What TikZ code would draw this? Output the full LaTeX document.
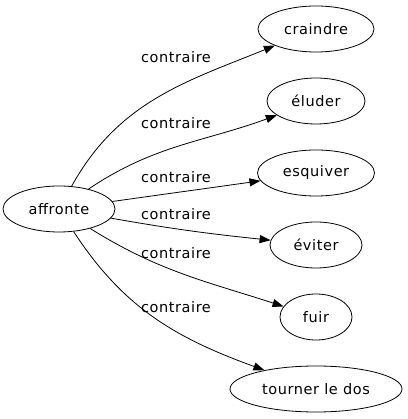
\documentclass[tikz,border=0pt]{standalone}
\usepackage{fontspec}
\newfontfamily\graphfont[LetterSpace=4]{DejaVu Sans}
\usetikzlibrary{shapes.geometric,arrows.meta}

\begin{document}
\begin{tikzpicture}[x=1pt,y=1pt,
    word/.style={draw,ellipse,inner sep=0pt,minimum height=46pt,
      line width=0.8pt,font=\graphfont\fontsize{14.5}{17}\selectfont},
    rel/.style={inner sep=0pt,font=\graphfont\fontsize{14.5}{17}\selectfont},
    edge/.style={line width=0.8pt,-{Triangle[length=11pt,width=8pt]}}]
    \useasboundingbox (0,0) rectangle (407,419);
    \node[word,minimum width=112pt] (affronte) at (59,210) {affronte};
    \node[word,minimum width=116pt] (craindre) at (316,390) {craindre};
    \node[word,minimum width=98pt] (eluder) at (316,318) {éluder};
    \node[word,minimum width=117pt] (esquiver) at (316,246) {esquiver};
    \node[word,minimum width=92pt] (eviter) at (316,174) {éviter};
    \node[word,minimum width=72pt] (fuir) at (316,102) {fuir};
    \node[word,minimum width=172pt] (dos) at (316,30) {tourner le dos};
    \draw[edge] (affronte) to [out=61,in=202] (craindre);
    \draw[edge] (affronte) to [out=34,in=200] (eluder);
    \draw[edge] (affronte) to [out=8,in=188] (esquiver);
    \draw[edge] (affronte) to [out=-10,in=174] (eviter);
    \draw[edge] (affronte) to [out=-32,in=162] (fuir);
    \draw[edge] (affronte) to [out=-57,in=160] (dos);
    \node[rel] (c1) at (176,362) {contraire};
    \node[rel] (c2) at (176,296) {contraire};
    \node[rel] (c3) at (176,242) {contraire};
    \node[rel] (c4) at (176,205) {contraire};
    \node[rel] (c5) at (176,166) {contraire};
    \node[rel] (c6) at (176,112) {contraire};
  \end{tikzpicture}
\end{document}
